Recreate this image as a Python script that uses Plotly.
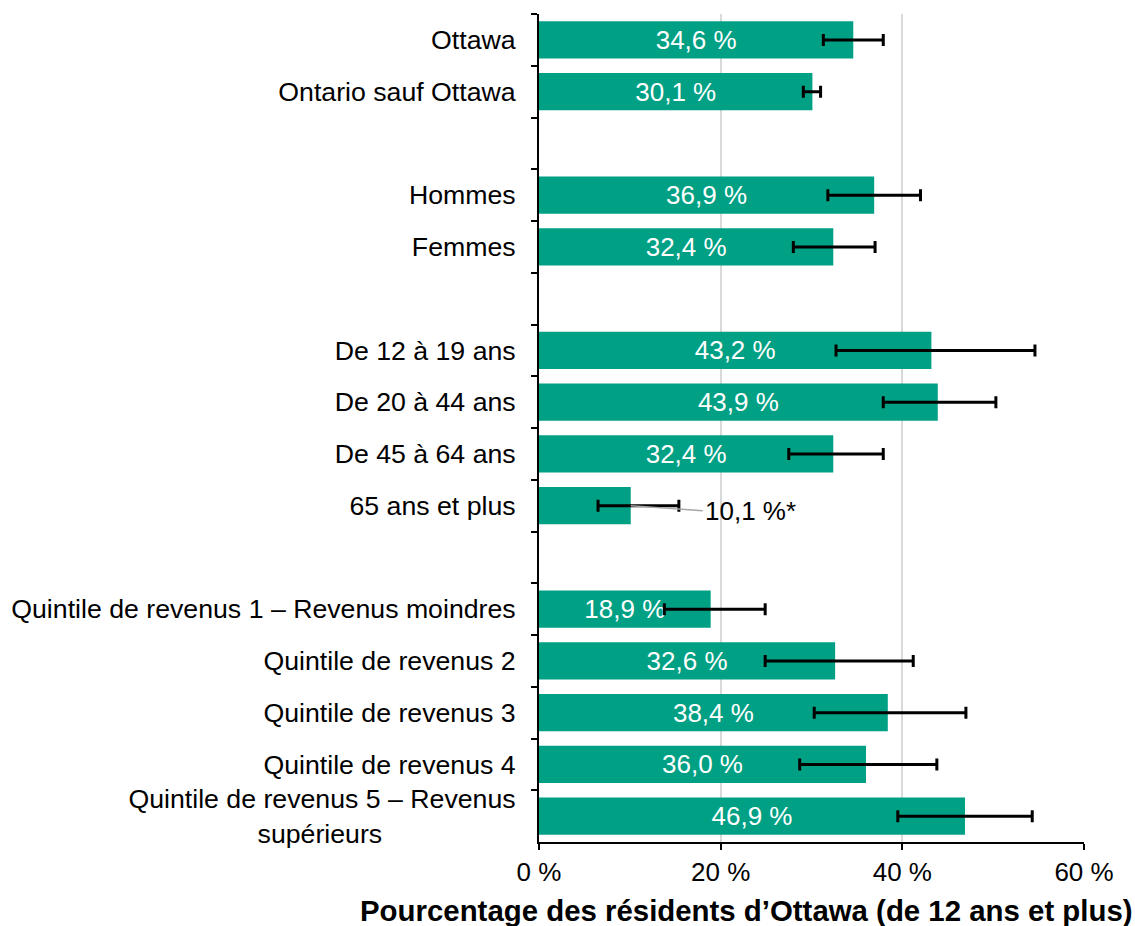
import plotly.graph_objects as go

# Share of Ottawa residents (12+), by group, with 95% confidence intervals
categories = [
    "Ottawa", "Ontario sauf Ottawa",
    "Hommes", "Femmes",
    "De 12 à 19 ans", "De 20 à 44 ans", "De 45 à 64 ans", "65 ans et plus",
    "Quintile de revenus 1 – Revenus moindres",
    "Quintile de revenus 2", "Quintile de revenus 3", "Quintile de revenus 4",
    "Quintile de revenus 5 – Revenus<br>supérieurs" + "\u00a0" * 18,
]
values = [34.6, 30.1, 36.9, 32.4, 43.2, 43.9, 32.4, 10.1, 18.9, 32.6, 38.4, 36.0, 46.9]
ci_low = [31.3, 29.1, 31.8, 28.0, 32.7, 37.9, 27.5, 6.5, 13.8, 24.9, 30.3, 28.7, 39.5]
ci_high = [37.9, 31.0, 42.0, 37.0, 54.6, 50.3, 37.9, 15.4, 24.9, 41.2, 47.0, 43.8, 54.3]
# estimates flagged for high sampling variability (label placed outside the bar)
high_variability = [False] * 7 + [True] + [False] * 5

x_ticks = [0, 20, 40, 60]
x_tick_labels = ["0 %", "20 %", "40 %", "60 %"]

# empty rows separating the groups
spacers = [" ", "  ", "   "]
axis_order = (categories[:2] + [spacers[0]] + categories[2:4] + [spacers[1]]
              + categories[4:8] + [spacers[2]] + categories[8:])

GREEN = "#00A084"
FONT = "Liberation Sans, Arial, sans-serif"
SIZE = 26.7


def fmt(v):
    return f"{v:.1f}".replace(".", ",") + " %"


inside_text = ["" if hv else fmt(v) for v, hv in zip(values, high_variability)]

fig = go.Figure()

fig.add_trace(go.Scatter(
    x=[0] * len(spacers), y=spacers, mode="markers",
    marker=dict(opacity=0), showlegend=False, hoverinfo="skip",
))

fig.add_trace(go.Bar(
    x=values, y=categories, orientation="h",
    marker=dict(color=GREEN, line=dict(width=0)),
    text=inside_text, textposition="inside", insidetextanchor="middle",
    textfont=dict(color="white", size=26, family=FONT),
    error_x=dict(
        type="data", symmetric=False,
        array=[h - v for h, v in zip(ci_high, values)],
        arrayminus=[v - l for v, l in zip(values, ci_low)],
        color="black", thickness=3, width=6,
    ),
    showlegend=False, cliponaxis=False,
))

for cat, v, hv in zip(categories, values, high_variability):
    if hv:
        fig.add_annotation(
            x=v, y=cat, xref="x", yref="y",
            text=fmt(v) + "*", showarrow=True, arrowhead=0,
            arrowcolor="#A6A6A6", arrowwidth=1.5,
            ax=72, ay=5, xanchor="left", yanchor="middle",
            font=dict(size=26, color="black", family=FONT),
        )

fig.add_annotation(
    x=1 + 51 / 545, y=-0.06, xref="paper", yref="paper",
    text="<b>Pourcentage des résidents d’Ottawa (de 12 ans et plus)</b>",
    showarrow=False, xanchor="right", yanchor="top",
    font=dict(size=29.4, color="black", family=FONT),
)

fig.update_layout(
    width=1135, height=926,
    margin=dict(l=539, r=51, t=14, b=84),
    paper_bgcolor="white", plot_bgcolor="white",
    bargap=0.28,
    font=dict(family=FONT, size=SIZE, color="black"),
    uniformtext=dict(mode="show", minsize=10),
)

fig.update_xaxes(
    range=[0, 60], tickvals=x_ticks, ticktext=x_tick_labels,
    showgrid=True, gridcolor="#D9D9D9", gridwidth=2,
    showline=True, linecolor="black", linewidth=2,
    ticks="outside", ticklen=6, tickwidth=1.5, tickcolor="black",
    tickfont=dict(size=26, family=FONT), zeroline=False, automargin=False,
)

fig.update_yaxes(
    type="category", categoryorder="array", categoryarray=axis_order,
    autorange="reversed", tickson="boundaries",
    ticks="outside", ticklen=6, tickwidth=1.5, tickcolor="black",
    showline=True, linecolor="black", linewidth=2, showgrid=False,
    tickfont=dict(size=SIZE, family=FONT), ticklabelstandoff=16,
    automargin=False,
)

fig.write_html("out.html")
